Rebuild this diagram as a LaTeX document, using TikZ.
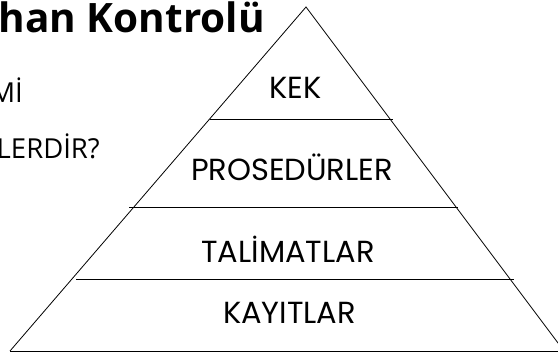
\documentclass[tikz,border=0pt]{standalone}
\usepackage{fontspec}
\setmainfont{Open Sans}
\newfontfamily\pyrfont{Poppins}
\begin{document}
\begin{tikzpicture}[x=1pt,y=-1pt,
  edge/.style={line width=0.8pt,black},
  layer/.style={font=\pyrfont\fontsize{30.5}{34}\selectfont,inner sep=0pt,anchor=center},
  body/.style={font=\fontsize{27.5}{30}\selectfont,inner sep=0pt,anchor=east}]
\useasboundingbox (0,0) rectangle (558,352);
\coordinate (apex) at (306,7);
\coordinate (bl) at (10,351);
\coordinate (br) at (564,351);
\draw[edge] (bl) -- (apex) -- (br);
\draw[edge] (bl) -- (br);
\draw[edge] (210,119) -- (393,119);
\draw[edge] (129,207.3) -- (458,207.3);
\draw[edge] (76,279.3) -- (514,279.3);
\node[layer] (kek) at (295.5,88) {KEK};
\node[layer] (pro) at (292,167.5) {PROSEDÜRLER};
\node[layer] (tal) at (288,249) {TALİMATLAR};
\node[layer] (kay) at (289.5,312.5) {KAYITLAR};
\node[font=\bfseries\fontsize{40.5}{44}\selectfont,inner sep=0pt,anchor=base east] (title) at (265,33) {han Kontrolü};
\node[body,anchor=base east] (mi) at (23,103) {Mİ};
\node[body,anchor=base east] (ler) at (100,159) {LERDİR?};
\end{tikzpicture}
\end{document}
